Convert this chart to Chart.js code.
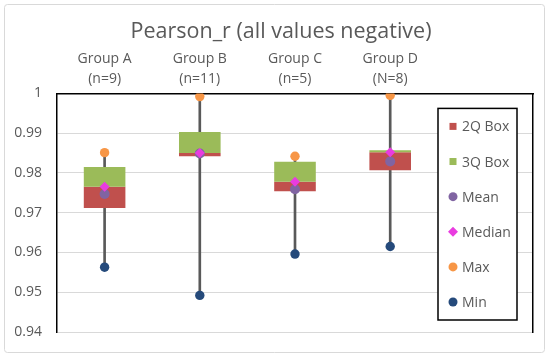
<!DOCTYPE html>
<html>
<head>
<meta charset="utf-8">
<script src="https://cdn.jsdelivr.net/npm/chart.js@4.4.1/dist/chart.umd.min.js"></script>
<style>
  html, body { margin: 0; padding: 0; background: #ffffff; }
  #wrap { width: 550px; height: 361px; position: relative; }
</style>
</head>
<body>
<div id="wrap"><canvas id="c" width="550" height="361"></canvas></div>
<script>
// ---- data ----
const categories = [['Group A', '(n=9)'], ['Group B', '(n=11)'], ['Group C', '(n=5)'], ['Group D', '(N=8)'], ''];
const q1Values     = [0.9712, 0.9842, 0.9754, 0.9807];
const medianValues = [0.9765, 0.9850, 0.9778, 0.9852];
const q3Values     = [0.9815, 0.9903, 0.9828, 0.9857];
const meanValues   = [0.9747, 0.9849, 0.9759, 0.9829];
const maxValues    = [0.9851, 0.9992, 0.9842, 0.9995];
const minValues    = [0.9563, 0.9492, 0.9596, 0.9615];
const yTicks       = [0.94, 0.95, 0.96, 0.97, 0.98, 0.99, 1];
const titleText    = 'Pearson_r (all values negative)';

const FONT = "'Open Sans', 'Liberation Sans', sans-serif";
const TEXT_COLOR = '#595959';

const whiskerData = minValues.map((v, i) => [v, maxValues[i]]);
const box2Data = q1Values.map((v, i) => [v, medianValues[i]]);
const box3Data = medianValues.map((v, i) => [v, q3Values[i]]);

const frame = {
  id: 'frame',
  beforeDraw(chart) {
    const ctx = chart.ctx;
    ctx.save();
    ctx.fillStyle = '#ffffff';
    ctx.fillRect(0, 0, chart.width, chart.height);
    ctx.strokeStyle = '#D9D9D9';
    ctx.lineWidth = 1;
    ctx.beginPath();
    ctx.roundRect(4.5, 4.5, chart.width - 10, chart.height - 13, 3);
    ctx.stroke();
    ctx.restore();
  }
};

const legendBox = {
  id: 'legendBox',
  afterDraw(chart) {
    const ctx = chart.ctx;
    const a = chart.chartArea;
    const right = a.right - 16, left = right - 79;
    const top = a.top + 15, bottom = a.bottom - 12;
    ctx.save();
    ctx.fillStyle = '#ffffff';
    ctx.fillRect(left, top, right - left, bottom - top);
    ctx.strokeStyle = '#000000';
    ctx.lineWidth = 1.5;
    ctx.strokeRect(left, top, right - left, bottom - top);
    const items = chart.data.datasets.filter(d => d.inLegend);
    const step = (bottom - top - 36) / (items.length - 1);
    items.forEach((d, i) => {
      const y = top + 18 + i * step;
      const mx = left + 15;
      ctx.fillStyle = d.legendColor;
      if (d.legendShape === 'square') {
        ctx.fillRect(mx - 3.5, y - 3.5, 7, 7);
      } else if (d.legendShape === 'diamond') {
        ctx.beginPath();
        ctx.moveTo(mx, y - 5); ctx.lineTo(mx + 5, y); ctx.lineTo(mx, y + 5); ctx.lineTo(mx - 5, y);
        ctx.closePath(); ctx.fill();
      } else {
        ctx.beginPath(); ctx.arc(mx, y, 4.5, 0, Math.PI * 2); ctx.fill();
      }
      ctx.fillStyle = TEXT_COLOR;
      ctx.font = '14px ' + FONT;
      ctx.textAlign = 'left';
      ctx.textBaseline = 'middle';
      ctx.fillText(d.label, left + 24, y + 1);
    });
    ctx.restore();
  }
};

function pointSet(label, data, color, style, radius, order, shape) {
  return {
    type: 'line', label, data, showLine: false, order,
    pointStyle: style, pointRadius: radius, pointHoverRadius: radius,
    pointBackgroundColor: color, pointBorderColor: color, pointBorderWidth: 0,
    backgroundColor: color, borderColor: color,
    inLegend: true, legendColor: color, legendShape: shape
  };
}

new Chart(document.getElementById('c'), {
  data: {
    labels: categories,
    datasets: [
      { type: 'bar', label: 'whisker', data: whiskerData, backgroundColor: '#595959',
        barThickness: 2, order: 10, inLegend: false },
      { type: 'bar', label: '2Q Box', data: box2Data, backgroundColor: '#C0504D',
        barPercentage: 0.437, categoryPercentage: 1, order: 9,
        inLegend: true, legendColor: '#C0504D', legendShape: 'square' },
      { type: 'bar', label: '3Q Box', data: box3Data, backgroundColor: '#9BBB59',
        barPercentage: 0.437, categoryPercentage: 1, order: 8,
        inLegend: true, legendColor: '#9BBB59', legendShape: 'square' },
      pointSet('Mean', meanValues, '#8064A2', 'circle', 5, 5, 'circle'),
      pointSet('Median', medianValues, '#E93CE0', 'rectRot', 5, 4, 'diamond'),
      pointSet('Max', maxValues, '#F79646', 'circle', 4.7, 3, 'circle'),
      pointSet('Min', minValues, '#254A7B', 'circle', 4.7, 2, 'circle')
    ]
  },
  options: {
    responsive: false,
    animation: false,
    events: [],
    layout: { padding: { left: 12, right: 0, top: 19, bottom: 29 } },
    plugins: {
      legend: { display: false },
      tooltip: { enabled: false },
      title: {
        display: true, text: titleText, color: TEXT_COLOR,
        font: { family: FONT, size: 21.5, weight: 'normal', lineHeight: 1.2 },
        padding: { top: 0, bottom: 0 }
      }
    },
    scales: {
      x: {
        type: 'category', position: 'top', stacked: true, offset: true,
        grid: { display: false, drawTicks: false },
        border: { display: true, color: '#000000', width: 1.5 },
        ticks: { color: TEXT_COLOR, font: { family: FONT, size: 14, lineHeight: 1.45 },
                 padding: 4, maxRotation: 0, autoSkip: false }
      },
      y: {
        type: 'linear', position: 'left', min: 0.94, max: 1,
        afterBuildTicks(scale) { scale.ticks = yTicks.map(v => ({ value: v })); },
        afterFit(scale) { scale.width = 45; },
        grid: { color: '#D9D9D9', lineWidth: 1, drawTicks: false },
        border: { display: true, color: '#000000', width: 1.5 },
        ticks: { color: TEXT_COLOR, font: { family: FONT, size: 14 }, padding: 15,
                 callback: v => String(Number(v.toFixed(2))) }
      },
      y2: {
        type: 'linear', position: 'right', min: 0.94, max: 1,
        afterFit(scale) { scale.width = 17; },
        grid: { display: false, drawTicks: false },
        border: { display: true, color: '#000000', width: 1.5 },
        ticks: { display: false }
      }
    }
  },
  plugins: [frame, legendBox]
});
</script>
</body>
</html>
